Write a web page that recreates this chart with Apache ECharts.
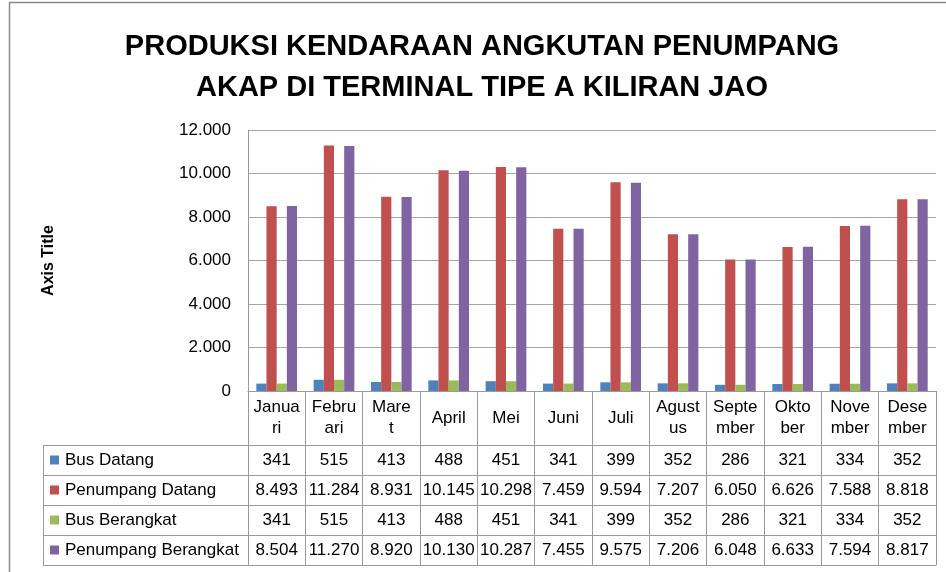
<!DOCTYPE html>
<html>
<head>
<meta charset="utf-8">
<script src="https://cdn.jsdelivr.net/npm/echarts@6/dist/echarts.min.js"></script>
<style>html,body{margin:0;padding:0;background:#fff}#c{width:946px;height:572px}</style>
</head>
<body>
<div id="c"></div>
<script>
const months = ['Januari','Februari','Maret','April','Mei','Juni','Juli','Agustus','September','Oktober','November','Desember'];
const monthLabels = ['Janua\nri','Febru\nari','Mare\nt','April','Mei','Juni','Juli','Agust\nus','Septe\nmber','Okto\nber','Nove\nmber','Dese\nmber'];
const seriesNames = ['Bus Datang','Penumpang Datang','Bus Berangkat','Penumpang Berangkat'];
const busDatang = [341,515,413,488,451,341,399,352,286,321,334,352];
const penumpangDatang = [8493,11284,8931,10145,10298,7459,9594,7207,6050,6626,7588,8818];
const busBerangkat = [341,515,413,488,451,341,399,352,286,321,334,352];
const penumpangBerangkat = [8504,11270,8920,10130,10287,7455,9575,7206,6048,6633,7594,8817];
const yTicks = [0,2000,4000,6000,8000,10000,12000];
const colors = ['#4F81BD','#C0504D','#9BBB59','#8064A2'];

const seriesData = [busDatang, penumpangDatang, busBerangkat, penumpangBerangkat];
const fmt = v => String(v).replace(/\B(?=(\d{3})+(?!\d))/g, '.');

const FONT = '"Liberation Sans", Arial, sans-serif';
const LINE = '#9a9a9a';
const GL = 248, GR = 936, GT = 130, GB = 391;
const HEAD = 54, ROW = 30;
const TL = 43;

const chart = echarts.init(document.getElementById('c'));

const xAxes = [{
  type: 'category', gridIndex: 0, data: months, position: 'bottom',
  axisLine: {show: true, lineStyle: {color: LINE}},
  axisTick: {show: true, length: HEAD, lineStyle: {color: LINE}},
  axisLabel: {interval: 0, margin: HEAD/2, verticalAlign: 'middle', fontFamily: FONT, fontSize: 17, lineHeight: 21, color: '#000',
    formatter: (v, i) => monthLabels[i]}
}];
seriesData.forEach((arr, k) => {
  xAxes.push({
    type: 'category', gridIndex: 0, data: months, position: 'bottom', offset: HEAD + ROW*k,
    axisLine: {show: true, onZero: false, lineStyle: {color: LINE}},
    axisTick: {show: true, length: ROW, lineStyle: {color: LINE}},
    axisLabel: {interval: 0, margin: ROW/2, verticalAlign: 'middle', fontFamily: FONT, fontSize: 17, color: '#000',
      formatter: (v, i) => fmt(arr[i])}
  });
});
xAxes.push({
  type: 'category', gridIndex: 0, data: months, position: 'bottom', offset: HEAD + ROW*4,
  axisLine: {show: true, onZero: false, lineStyle: {color: LINE}},
  axisTick: {show: false}, axisLabel: {show: false}
});

const legends = seriesNames.map((n, k) => ({
  data: [n], orient: 'vertical', left: 50, top: GB + HEAD + ROW*k + ROW/2 - 10,
  itemWidth: 9, itemHeight: 9, itemGap: 0, padding: 0,
  icon: 'rect', selectedMode: false,
  textStyle: {fontFamily: FONT, fontSize: 17, color: '#000', padding: [0,0,0,1], lineHeight: 20}
}));

const graphics = [
  {type: 'rect', shape: {x: 9.5, y: 2.5, width: 1000, height: 1000}, style: {fill: 'none', stroke: '#8c8c8c', lineWidth: 1.5}, silent: true},
  {type: 'line', shape: {x1: TL + 0.5, y1: GB + HEAD, x2: TL + 0.5, y2: GB + HEAD + ROW*4}, style: {stroke: LINE, lineWidth: 1}}
];
for (let k = 0; k <= 4; k++) {
  const y = GB + HEAD + ROW*k + 0.5;
  graphics.push({type: 'line', shape: {x1: TL, y1: y, x2: GL, y2: y}, style: {stroke: LINE, lineWidth: 1}});
}

chart.setOption({
  animation: false,
  backgroundColor: '#fff',
  color: colors,
  title: {
    text: 'PRODUKSI KENDARAAN ANGKUTAN PENUMPANG\nAKAP DI TERMINAL TIPE A KILIRAN JAO',
    left: 482, top: 26, padding: 0,
    textAlign: 'center',
    textStyle: {fontFamily: FONT, fontWeight: 'bold', fontSize: 29, lineHeight: 41, color: '#000'}
  },
  legend: legends,
  grid: {left: GL, right: 946 - GR, top: GT, bottom: 572 - GB, containLabel: false},
  xAxis: xAxes,
  yAxis: {
    type: 'value', min: yTicks[0], max: yTicks[yTicks.length-1], interval: yTicks[1]-yTicks[0],
    name: 'Axis Title', nameLocation: 'middle', nameGap: GL - 57, nameRotate: 90,
    nameTextStyle: {fontFamily: FONT, fontWeight: 'bold', fontSize: 16, color: '#000'},
    axisLine: {show: true, lineStyle: {color: LINE}},
    axisTick: {show: false},
    splitLine: {show: true, lineStyle: {color: '#a6a6a6', width: 1}},
    axisLabel: {margin: 17, fontFamily: FONT, fontSize: 17, color: '#000', formatter: v => fmt(v)}
  },
  graphic: graphics,
  series: seriesNames.map((n, k) => ({
    name: n, type: 'bar', xAxisIndex: 0, data: seriesData[k],
    barGap: '0%', barCategoryGap: '29%',
    itemStyle: {color: colors[k]}
  }))
});
</script>
</body>
</html>
